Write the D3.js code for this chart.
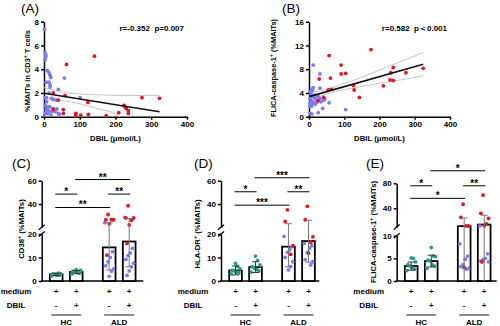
<!DOCTYPE html>
<html>
<head>
<meta charset="utf-8">
<script src="https://cdn.jsdelivr.net/npm/d3@7"></script>
<style>
body { margin: 0; background: #fff; }
svg text { font-family: Arial, "Liberation Sans", sans-serif; }
</style>
</head>
<body>
<script>
const W = 500, H = 326;
const BLUE = '#7b7cf2', RED = '#e8131c', TEAL = '#2a9a88';

// ---- scatter data (A, B) ----
const xTicks = [0, 100, 200, 300, 400];
const aYTicks = [0, 2, 4, 6, 8];
const bYTicks = [0, 4, 8, 12, 16];

const aBlueX = [1,3,5,5,3,9,14,17,19,57,6,14,17,17,40,14,3,7,21,26,34,101,7,3,6,12,7,17,26,36,6,12,21,31,3,10,19,40,43,1];
const aBlueY = [7.36,5.4,5.2,5.05,4.8,3.9,3.7,3.5,3.3,3.25,2.9,2.9,2.7,2.5,2.3,2.0,1.6,1.6,1.55,1.45,1.4,1.6,1.26,1.0,0.85,0.85,0.7,0.8,0.7,0.65,0.56,0.48,0.42,0.42,0.28,0.28,0.14,0.28,0.2,0.14];
const aRedX = [63,141,59,26,40,123,54,54,26,89,89,103,124,174,209,224,226,230,236,236,274,323];
const aRedY = [4.4,5.1,1.8,2.0,1.4,1.2,0.6,0.28,0.6,0.28,0.08,0.14,0.2,0.08,0.34,0.95,0.85,0.7,0.5,0.28,1.6,1.55];
const aLine = [[0,1.98],[323,0.42]];
const aUpper = [[0,2.45],[50,2.10],[100,1.91],[150,1.84],[200,1.80],[260,1.79],[323,1.80]];
const aLower = [[0,1.51],[50,1.38],[100,1.09],[150,0.68],[200,0.22],[212,0]];

const bBlueX = [12,31,12,8,31,3,10,6,17,10,3,17,26,31,6,12,22,40,45,34,3,9,17,3,8,57,22,3,8,26,39,104];
const bBlueY = [8.7,7.2,4.9,4.6,4.8,4.2,4.4,3.8,3.65,3.4,3.1,3.1,3.4,3.1,2.7,2.5,2.8,2.8,2.9,2.5,2.25,2.25,2.1,1.7,1.8,2.35,2.4,0.56,0.45,0.67,1.4,1.2];
const bRedX = [57,176,91,91,104,29,61,55,64,42,26,126,128,143,211,230,232,239,239,275,324];
const bRedY = [10.3,11.3,8.7,7.2,7.3,6.35,6.5,4.5,4.6,3.25,2.7,5.3,4.5,3.25,5.2,6.2,7.4,8.3,6.1,7.4,8.15];
const bLine = [[3,3.42],[324,8.85]];
const bUpper = [[3,4.0],[50,4.61],[100,5.55],[150,6.66],[200,7.84],[260,9.28],[324,10.8]];
const bLower = [[3,2.8],[50,3.81],[100,4.55],[150,5.10],[200,5.62],[260,6.2],[324,6.9]];

// ---- bar data (C, D, E) ----
const groups = ['HC', 'ALD'];
const conds = ['medium', 'DBIL'];

const cMean = [2.8, 3.8, 14.3, 16.8];
const cSD = [0.5, 0.7, 9.6, 10.7];
const cTeal = [[2.2,2.5,2.6,2.8,3.0,3.1,3.3,2.7],[3.0,3.3,3.6,3.9,4.2,4.5,3.8,4.8]];
const cBlue = [[24,12.5,10,8.2,6.5,5.2,4.2,2.0],[28.5,13.9,12,10.8,9.2,7.6,6,4.3,2.4]];
const cRed = [[31,26.5,26.5,26.5,23,11],[38.5,28,28,26,22,16]];
const cBrackets = [[1,3,61,'**'],[0,1,48.5,'*'],[2,3,48.5,'**'],[0,2,37,'**']];

const dMean = [4.5, 5.9, 14.6, 17.0];
const dSD = [1.9, 2.3, 8.5, 9.0];
const dTeal = [[3.0,3.4,3.8,4.2,4.6,5.2,6.2,7.5],[3.8,4.3,4.9,5.4,6.1,6.8,8.8,10.6]];
const dBlue = [[19,14.5,13.2,12.2,10,8.2,6.1,4.7],[16,15,14,12.2,9.1,8.2,6.8]];
const dRed = [[35,25,15,11.3],[38,26.5,18.8,16.5,11.8]];
const dBrackets = [[1,3,62.5,'***'],[0,1,50.5,'*'],[2,3,50.5,'**'],[0,2,39,'***']];

const eMean = [3.3, 4.4, 11.5, 14];
const eSD = [0.9, 1.3, 13, 15];
const eTeal = [[2.3,2.6,2.9,3.3,3.6,4.2,5.0,5.1],[2.8,3.3,3.6,4.4,4.6,5.4,5.5,7.4]];
const eBlue = [[8.2,5.5,4.8,3.6,3.2,2.8,2.6],[12,6.0,5.0,4.7,4.4,4.2]];
const eRed = [[46.5,25.7,11.8,11.8,3.0],[61,32,24,15,12,4.2]];
const eBrackets = [[1,3,100,'*'],[0,1,76,'*'],[2,3,76,'**'],[0,2,56,'*']];

const svg = d3.select('body').append('svg')
  .attr('width', W).attr('height', H)
  .style('background', '#fff');

// text with superscript parts: '^' marks a superscript piece
function richText(sel, parts, size) {
  let prevSup = false;
  parts.forEach(p => {
    const sup = p.startsWith('^');
    sel.append('tspan')
      .attr('font-size', sup ? size * 0.7 : size)
      .attr('dy', sup ? -size * 0.4 : (prevSup ? size * 0.4 : 0))
      .text(sup ? p.slice(1) : p);
    prevSup = sup;
  });
  return sel;
}

function styleAxis(g) {
  g.selectAll('path, line').attr('stroke', '#000').attr('stroke-width', 1.5);
  g.selectAll('text').attr('font-size', 8).attr('font-weight', 'bold').attr('fill', '#000');
}

function panelLetter(x, y, t) {
  svg.append('text').attr('x', x).attr('y', y).attr('font-size', 13.5).text(t);
}

function drawScatter(o) {
  const x = d3.scaleLinear().domain([0, 400]).range([o.left, o.right]);
  const y = d3.scaleLinear().domain([0, o.yMax]).range([o.bottom, o.top]);
  const g = svg.append('g');

  g.append('g').attr('transform', `translate(0,${o.bottom})`)
    .call(d3.axisBottom(x).tickValues(xTicks).tickSize(3).tickSizeOuter(0).tickPadding(2))
    .call(styleAxis);
  g.append('g').attr('transform', `translate(${o.left},0)`)
    .call(d3.axisLeft(y).tickValues(o.yTicks).tickSize(3).tickSizeOuter(0).tickPadding(2))
    .call(styleAxis);

  const line = d3.line().x(d => x(d[0])).y(d => y(d[1]));
  const curve = d3.line().x(d => x(d[0])).y(d => y(d[1])).curve(d3.curveMonotoneX);
  [o.upper, o.lower].forEach(band => {
    g.append('path').attr('d', curve(band)).attr('fill', 'none')
      .attr('stroke', '#c4c4c4').attr('stroke-width', 1);
  });

  const pts = (xs, ys, col) => g.append('g').selectAll('circle')
    .data(xs.map((v, i) => [v, ys[i]]))
    .enter().append('circle')
    .attr('cx', d => x(d[0])).attr('cy', d => y(d[1]))
    .attr('r', 1.9).attr('fill', col);
  pts(o.blueX, o.blueY, BLUE);
  pts(o.redX, o.redY, RED);

  g.append('path').attr('d', line(o.line)).attr('fill', 'none')
    .attr('stroke', '#111').attr('stroke-width', 1.6);

  g.append('text').attr('x', (o.left + o.right) / 2).attr('y', o.bottom + 24)
    .attr('text-anchor', 'middle').attr('font-size', 7.8).attr('font-weight', 'bold')
    .text('DBIL (μmol/L)');
  richText(g.append('text')
    .attr('transform', `translate(${o.labelX},${o.labelY}) rotate(-90)`)
    .attr('text-anchor', 'middle').attr('font-weight', 'bold'), o.yLabel, 7.4);
  g.append('text').attr('x', o.right - 3).attr('y', 31)
    .attr('text-anchor', 'end').attr('font-size', 8).attr('font-weight', 'bold')
    .attr('xml:space', 'preserve').text(o.stat);
}

function drawBars(o) {
  const g = svg.append('g');
  const gx = d3.scaleBand().domain(groups)
    .range([o.axisX + 4.5, o.axisX + 97.5]).paddingInner(0.244);
  const cx = d3.scaleBand().domain(conds)
    .range([0, gx.bandwidth()]).paddingInner(0.365).paddingOuter(0.1825);
  const slots = [];
  groups.forEach(gr => conds.forEach(c => slots.push({ g: gr, c: c })));
  const xc = i => gx(slots[i].g) + cx(slots[i].c) + cx.bandwidth() / 2;
  const bw = cx.bandwidth();

  const yLow = d3.scaleLinear().domain([0, o.lowMax]).range(o.lowRange);
  const yHigh = d3.scaleLinear().domain(o.highDomain).range(o.highRange);
  const y = v => (v <= o.lowMax ? yLow(v) : yHigh(v));

  // broken y axis
  g.append('g').attr('transform', `translate(${o.axisX},0)`)
    .call(d3.axisLeft(yLow).tickValues(o.lowTicks).tickSize(3).tickSizeOuter(0).tickPadding(2))
    .call(styleAxis);
  g.append('g').attr('transform', `translate(${o.axisX},0)`)
    .call(d3.axisLeft(yHigh).tickValues(o.highTicks).tickSize(3).tickSizeOuter(0).tickPadding(2))
    .call(styleAxis);
  [o.lowRange[1], o.highRange[0]].forEach(py => {
    g.append('line').attr('x1', o.axisX - 3).attr('x2', o.axisX + 3)
      .attr('y1', py + 2.5).attr('y2', py - 2.5)
      .attr('stroke', '#000').attr('stroke-width', 1.3);
  });
  g.append('line').attr('x1', o.axisX - 0.75).attr('x2', o.xEnd)
    .attr('y1', o.lowRange[0]).attr('y2', o.lowRange[0])
    .attr('stroke', '#000').attr('stroke-width', 1.5);

  // bars
  g.selectAll('.bar').data(o.mean).enter().append('rect')
    .attr('class', 'bar')
    .attr('x', (d, i) => xc(i) - bw / 2).attr('width', bw)
    .attr('y', d => y(d)).attr('height', d => o.lowRange[0] - y(d))
    .attr('fill', '#fff').attr('stroke', '#000').attr('stroke-width', 1.8);

  // points
  const jitter = i => (((i * 7) % 9) - 4) * 1.1;
  const pts = [];
  o.teal.forEach((arr, b) => arr.forEach((v, i) => pts.push({ b: b, v: v, i: i, c: TEAL })));
  o.blue.forEach((arr, b) => arr.forEach((v, i) => pts.push({ b: b + 2, v: v, i: i, c: BLUE })));
  o.red.forEach((arr, b) => arr.forEach((v, i) => pts.push({ b: b + 2, v: v, i: i + 3, c: RED })));
  g.append('g').selectAll('circle').data(pts).enter().append('circle')
    .attr('cx', d => xc(d.b) + jitter(d.i)).attr('cy', d => y(d.v))
    .attr('r', 1.9).attr('fill', d => d.c);

  // error bars (mean +/- SD)
  o.mean.forEach((m, i) => {
    const lo = Math.max(0, m - o.sd[i]), hi = m + o.sd[i];
    const col = i < 2 ? '#333' : '#777';
    g.append('line').attr('x1', xc(i)).attr('x2', xc(i))
      .attr('y1', y(lo)).attr('y2', y(hi)).attr('stroke', col).attr('stroke-width', 1);
    [lo, hi].forEach(v => {
      if (v <= 0) return;
      g.append('line').attr('x1', xc(i) - 3.5).attr('x2', xc(i) + 3.5)
        .attr('y1', y(v)).attr('y2', y(v)).attr('stroke', col).attr('stroke-width', 1);
    });
  });

  // significance brackets
  o.brackets.forEach(([a, b, lvl, s]) => {
    const py = y(lvl);
    g.append('line').attr('x1', xc(a) - 1).attr('x2', xc(b) + 1)
      .attr('y1', py).attr('y2', py).attr('stroke', '#000').attr('stroke-width', 1);
    g.append('text').attr('x', (xc(a) + xc(b)) / 2).attr('y', py + 1)
      .attr('text-anchor', 'middle').attr('font-size', 10).attr('font-weight', 'bold')
      .text(s);
  });

  // condition table under the axis
  const rowText = (tx, ty, t) => g.append('text').attr('x', tx).attr('y', ty)
    .attr('text-anchor', 'middle').attr('font-size', 8).attr('font-weight', 'bold').text(t);
  rowText(Math.max(16, o.axisX - 28), 294, 'medium');
  rowText(Math.max(16, o.axisX - 28), 308, 'DBIL');
  slots.forEach((s, i) => {
    rowText(xc(i), 294, '+');
    rowText(xc(i), 308, s.c === 'DBIL' ? '+' : '-');
  });
  groups.forEach((gr, k) => {
    const x0 = xc(k * 2) - 5, x1 = xc(k * 2 + 1) + 5;
    g.append('line').attr('x1', x0).attr('x2', x1).attr('y1', 315).attr('y2', 315)
      .attr('stroke', '#444').attr('stroke-width', 1.2);
    rowText((x0 + x1) / 2, 325, gr);
  });

  richText(g.append('text')
    .attr('transform', `translate(${o.labelX},${o.labelY}) rotate(-90)`)
    .attr('text-anchor', 'middle').attr('font-weight', 'bold'), o.yLabel, 7.7);
}

drawScatter({
  left: 44, right: 187, top: 21.7, bottom: 116.7, yMax: 8, yTicks: aYTicks,
  blueX: aBlueX, blueY: aBlueY, redX: aRedX, redY: aRedY,
  line: aLine, upper: aUpper, lower: aLower,
  labelX: 30, labelY: 71, yLabel: ['%MAITs in CD3', '^+', ' T cells'],
  stat: 'r=-0.352  p=0.007'
});
drawScatter({
  left: 309, right: 450, top: 21.7, bottom: 116.7, yMax: 16, yTicks: bYTicks,
  blueX: bBlueX, blueY: bBlueY, redX: bRedX, redY: bRedY,
  line: bLine, upper: bUpper, lower: bLower,
  labelX: 276, labelY: 68, yLabel: ['FLICA-caspase-1', '^+', ' (%MAITs)'],
  stat: 'r=0.582  p\uFF1C0.001'
});

const lowC = { lowMax: 20, lowRange: [281, 234], highDomain: [20, 60], highRange: [227.3, 180.7],
  lowTicks: [0, 10, 20], highTicks: [40, 60] };
drawBars(Object.assign({}, lowC, {
  axisX: 41.7, xEnd: 143.3, mean: cMean, sd: cSD, teal: cTeal, blue: cBlue, red: cRed,
  brackets: cBrackets, labelX: 24, labelY: 229, yLabel: ['CD38', '^+', ' (%MAITs)']
}));
drawBars(Object.assign({}, lowC, {
  axisX: 221, xEnd: 319.3, mean: dMean, sd: dSD, teal: dTeal, blue: dBlue, red: dRed,
  brackets: dBrackets, labelX: 200, labelY: 234, yLabel: ['HLA-DR', '^+', ' (%MAITs)']
}));
drawBars({
  lowMax: 10, lowRange: [281, 235.7], highDomain: [10, 80], highRange: [227.1, 183.3],
  lowTicks: [0, 5, 10], highTicks: [40, 80],
  axisX: 396.7, xEnd: 496.7, mean: eMean, sd: eSD, teal: eTeal, blue: eBlue, red: eRed,
  brackets: eBrackets, labelX: 376, labelY: 232, yLabel: ['FLICA-caspase-1', '^+', ' (%MAITs)']
});

panelLetter(21, 13, '(A)');
panelLetter(282, 13, '(B)');
panelLetter(12, 168, '(C)');
panelLetter(194, 168, '(D)');
panelLetter(366, 168, '(E)');
</script>
</body>
</html>
